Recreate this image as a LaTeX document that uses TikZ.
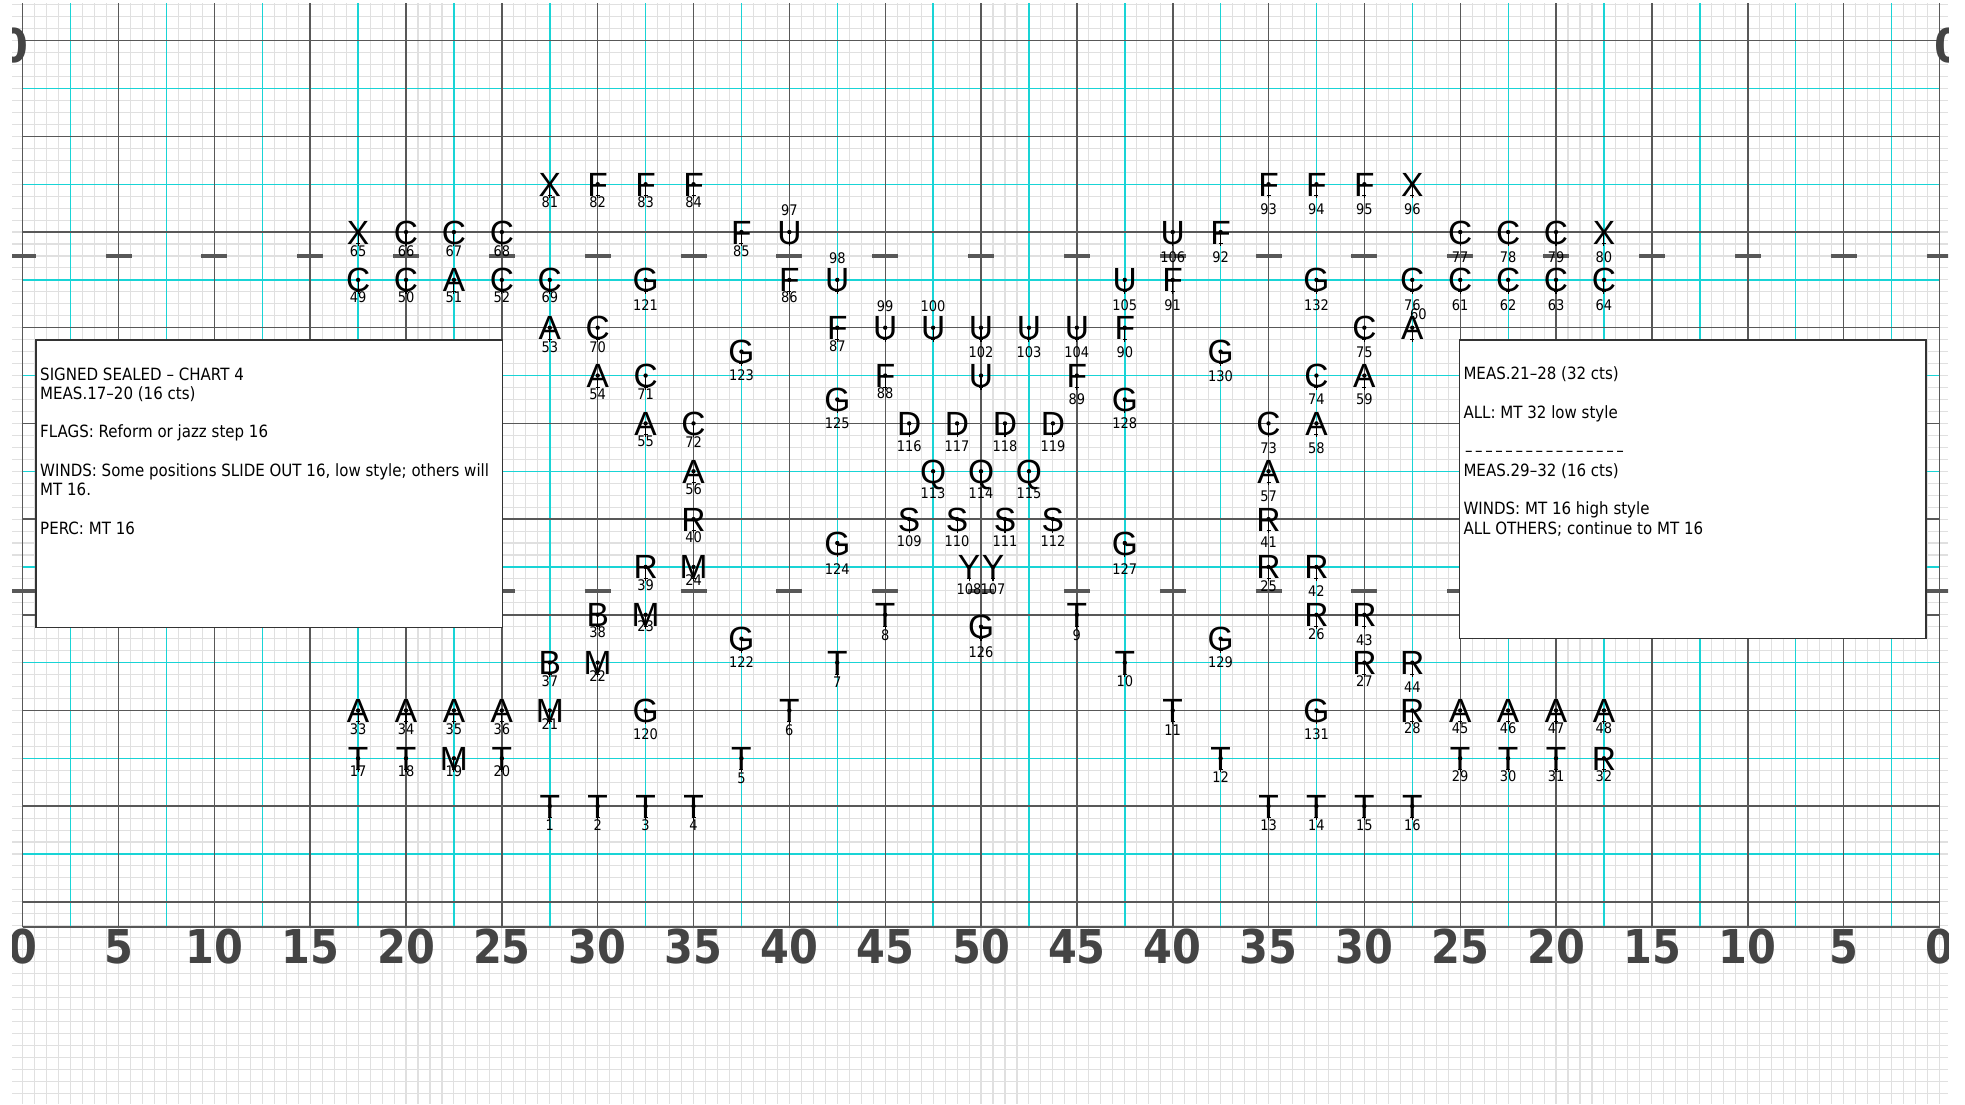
\documentclass[tikz,border=0pt]{standalone}
\usepackage{fontspec}
\usetikzlibrary{calc}
\setmainfont{DejaVu Sans}
\newfontfamily\perffont{Liberation Sans}
\newfontfamily\labfam[FakeStretch=0.89]{DejaVu Sans}
\newfontfamily\numfam[FakeStretch=0.89]{DejaVu Sans Bold}
\definecolor{finegrid}{RGB}{224,224,224}
\definecolor{darkgrid}{RGB}{88,88,88}
\definecolor{cyangrid}{RGB}{25,212,214}
\definecolor{hashc}{RGB}{88,88,88}
\definecolor{numc}{RGB}{68,68,68}
\tikzset{
  perf/.style={font=\perffont\fontsize{33.5}{40}\selectfont, anchor=base, inner sep=0pt},
  plabel/.style={font=\labfam\fontsize{14.6}{16}\selectfont, inner sep=0pt, anchor=center},
  boxtext/.style={font=\labfam\fontsize{16.9}{19}\selectfont, inner sep=0pt, anchor=base west},
  yardnum/.style={font=\numfam\fontsize{46.6}{50}\selectfont, text=numc, inner sep=0pt, anchor=base},
  noteframe/.style={draw=black!80, line width=1.3pt, fill=white},
  fineline/.style={finegrid, line width=1.1pt},
  cyanline/.style={cyangrid, line width=1.4pt},
  darkline/.style={darkgrid, line width=1.5pt},
  hashline/.style={hashc, line width=4.5pt},
}
\begin{document}
\begin{tikzpicture}[x=1pt,y=-1pt]
\useasboundingbox (0,0) rectangle (1965,1104);
\fill[white] (0,0) rectangle (1965,1104);
\begin{scope}
\clip (12,3) rectangle (1948,1104);
% fine step grid
\foreach \k in {0,...,160} \draw[fineline] ({22.7+11.979*\k},3) -- ({22.7+11.979*\k},1104);
\foreach \j in {-35,...,57} \draw[fineline] (12,{423.4+11.96*\j}) -- (1948,{423.4+11.96*\j});
% cyan lines
\foreach \k in {0,...,19} \draw[cyanline] ({22.7+47.92*(2*\k+1)},3) -- ({22.7+47.92*(2*\k+1)},927);
\foreach \m in {-7,-5,...,9} \draw[cyanline] (22.7,{423.4+47.84*\m}) -- (1939.5,{423.4+47.84*\m});
% dark lines
\foreach \k in {0,...,20} \draw[darkline] ({22.7+95.84*\k},3) -- ({22.7+95.84*\k},927);
\foreach \m in {-8,-6,...,10} \draw[darkline] (22.7,{423.4+47.84*\m}) -- (1939.5,{423.4+47.84*\m});
\draw[darkline] (22.7,927) -- (1939.5,927);
% hashes
\foreach \k in {0,...,20} {
  \draw[hashline] ({22.7+95.84*\k-13},256) -- ++(26,0);
  \draw[hashline] ({22.7+95.84*\k-13},590.8) -- ++(26,0);
}
% yard numbers
\foreach \k in {0,...,20} {
  \pgfmathtruncatemacro{\yv}{min(5*\k,100-5*\k)}
  \node[yardnum] (yn\k) at ({22.7+95.84*\k},963.5) {\yv};
}
\node[yardnum] (tz1) at (13.5,62) {0};
\node[yardnum] (tz2) at (1949,62) {0};
\end{scope}
% note boxes
\draw[noteframe] (36,340) rectangle (502.7,627.3);
\node[boxtext] (ta1) at (40,380) {SIGNED SEALED – CHART 4};
\node[boxtext] (ta2) at (40,399.25) {MEAS.17–20 (16 cts)};
\node[boxtext] (ta3) at (40,437.75) {FLAGS: Reform or jazz step 16};
\node[boxtext] (ta4) at (40,476.25) {WINDS: Some positions SLIDE OUT 16, low style; others will};
\node[boxtext] (ta5) at (40,495.5) {MT 16.};
\node[boxtext] (ta6) at (40,534) {PERC: MT 16};
\draw[noteframe] (1459.3,340) rectangle (1926,638.7);
\node[boxtext] (tb1) at (1463.3,379.5) {MEAS.21–28 (32 cts)};
\node[boxtext] (tb2) at (1463.3,418) {ALL: MT 32 low style};
\node[boxtext] (tb3) at (1463.3,456.5) {\hbox to 162pt{\xleaders\hbox to 9.53pt{\hss–\hss}\hfill}};
\node[boxtext] (tb4) at (1463.3,476) {MEAS.29–32 (16 cts)};
\node[boxtext] (tb5) at (1463.3,514.5) {WINDS: MT 16 high style};
\node[boxtext] (tb6) at (1463.3,534) {ALL OTHERS; continue to MT 16};
% performers
\foreach \id/\ltr/\cx/\ry/\ldx/\ldy in {
1/T/44/32/0/19, 2/T/48/32/0/19, 3/T/52/32/0/19, 4/T/56/32/0/19,
5/T/60/28/0/20, 6/T/64/24/0/19.3, 7/T/68/20/0/19.3, 8/T/72/16/0/20,
9/T/88/16/0/20, 10/T/92/20/0/18.3, 11/T/96/24/0/19.3, 12/T/100/28/0/18.3,
13/T/104/32/0/19, 14/T/108/32/0/19, 15/T/112/32/0/19, 16/T/116/32/0/19,
17/T/28/28/0/13.3, 18/T/32/28/0/13.3, 19/M/36/28/0/13.3, 20/T/40/28/0/13.3,
21/M/44/24/0/13.3, 22/M/48/20/0/13.3, 23/M/52/16/0/11.7, 24/M/56/12/0/13.3,
25/R/104/12/0/19.3, 26/R/108/16/0/19.3, 27/R/112/20/0/18.3, 28/R/116/24/0/17.7,
29/T/120/28/0/18.3, 30/T/124/28/0/18.3, 31/T/128/28/0/18.3, 32/R/132/28/0/18.3,
33/A/28/24/0/18.3, 34/A/32/24/0/18.3, 35/A/36/24/0/18.3, 36/A/40/24/0/18.3,
37/B/44/20/0/18.3, 38/B/48/16/0/17.7, 39/R/52/12/0/18.3, 40/R/56/8/0/18.3,
41/R/104/8/0/23.3, 42/R/108/12/0/24, 43/R/112/16/0/25, 44/R/116/20/0/24.3,
45/A/120/24/0/17.7, 46/A/124/24/0/17.7, 47/A/128/24/0/17.7, 48/A/132/24/0/17.7,
49/C/28/-12/0/17.7, 50/C/32/-12/0/17.7, 51/A/36/-12/0/17.7, 52/C/40/-12/0/17.7,
53/A/44/-8/0/19, 54/A/48/-4/0/18.3, 55/A/52/0/0/18.3, 56/A/56/4/0/18.3,
57/A/104/4/0/25, 58/A/108/0/0/25, 59/A/112/-4/0/24, 60/A/116/-8/6/-14,
61/C/120/-12/0/25, 62/C/124/-12/0/25, 63/C/128/-12/0/25, 64/C/132/-12/0/25,
65/X/28/-16/0/19, 66/C/32/-16/0/19, 67/C/36/-16/0/19, 68/C/40/-16/0/19,
69/C/44/-12/0/17.7, 70/C/48/-8/0/19, 71/C/52/-4/0/18.3, 72/C/56/0/0/18.3,
73/C/104/0/0/25, 74/C/108/-4/0/24, 75/C/112/-8/0/24.3, 76/C/116/-12/0/25,
77/C/120/-16/0/25, 78/C/124/-16/0/25, 79/C/128/-16/0/25, 80/X/132/-16/0/25,
81/X/44/-20/0/17.7, 82/F/48/-20/0/17.7, 83/F/52/-20/0/17.7, 84/F/56/-20/0/17.7,
85/F/60/-16/0/19, 86/F/64/-12/0/17.7, 87/F/68/-8/0/18.3, 88/F/72/-4/0/17.3,
89/F/88/-4/0/24, 90/F/92/-8/0/24.3, 91/F/96/-12/0/25, 92/F/100/-16/0/25,
93/F/104/-20/0/25, 94/F/108/-20/0/25, 95/F/112/-20/0/25, 96/X/116/-20/0/25,
97/U/64/-16/0/-21.7, 98/U/68/-12/0/-21.7, 99/U/72/-8/0/-21.7, 100/U/76/-8/0/-21.7,
102/U/80/-8/0/24.3, 103/U/84/-8/0/24.3, 104/U/88/-8/0/24.3, 105/U/92/-12/0/25,
106/U/96/-16/0/25, 107/Y/81/12/0/22.3, 108/Y/79/12/0/22.3,
109/S/74/8/0/22.3, 110/S/78/8/0/22.3, 111/S/82/8/0/22.3, 112/S/86/8/0/22.3,
113/Q/76/4/0/21.7, 114/Q/80/4/0/21.7, 115/Q/84/4/0/21.7,
116/D/74/0/0/22.3, 117/D/78/0/0/22.3, 118/D/82/0/0/22.3, 119/D/86/0/0/22.3,
120/G/52/24/0/24, 121/G/52/-12/0/25, 122/G/60/18/0/23.3, 123/G/60/-6/0/23.3,
124/G/68/10/0/25.7, 125/G/68/-2/0/24, 126/G/80/17/0/25, 127/G/92/10/0/25.7,
128/G/92/-2/0/24, 129/G/100/18/0/23.3, 130/G/100/-6/0/24.3, 131/G/108/24/0/23.3,
132/G/108/-12/0/25} {
  \coordinate (c\id) at ({22.7+11.979*\cx},{423.4+11.96*\ry});
  \node[perf] (p\id) at ($(c\id)+(0,12)$) {\ltr};
  \fill (c\id) circle (2.2pt);
  \draw[line width=1.1pt] (c\id) -- ++(0,14);
  \draw[line width=1pt] ($(c\id)+(-2,11.5)$) -- ++(4,0);
  \node[plabel] (l\id) at ($(c\id)+(\ldx,\ldy)$) {\id};
}
% performer 101 (no label shown)
\coordinate (c101) at ({22.7+11.979*80},{423.4+11.96*(-4)});
\node[perf] (p101) at ($(c101)+(0,12)$) {U};
\fill (c101) circle (2.2pt);
\draw[line width=1.1pt] (c101) -- ++(0,14);
\draw[line width=1pt] ($(c101)+(-2,11.5)$) -- ++(4,0);
\end{tikzpicture}
\end{document}
